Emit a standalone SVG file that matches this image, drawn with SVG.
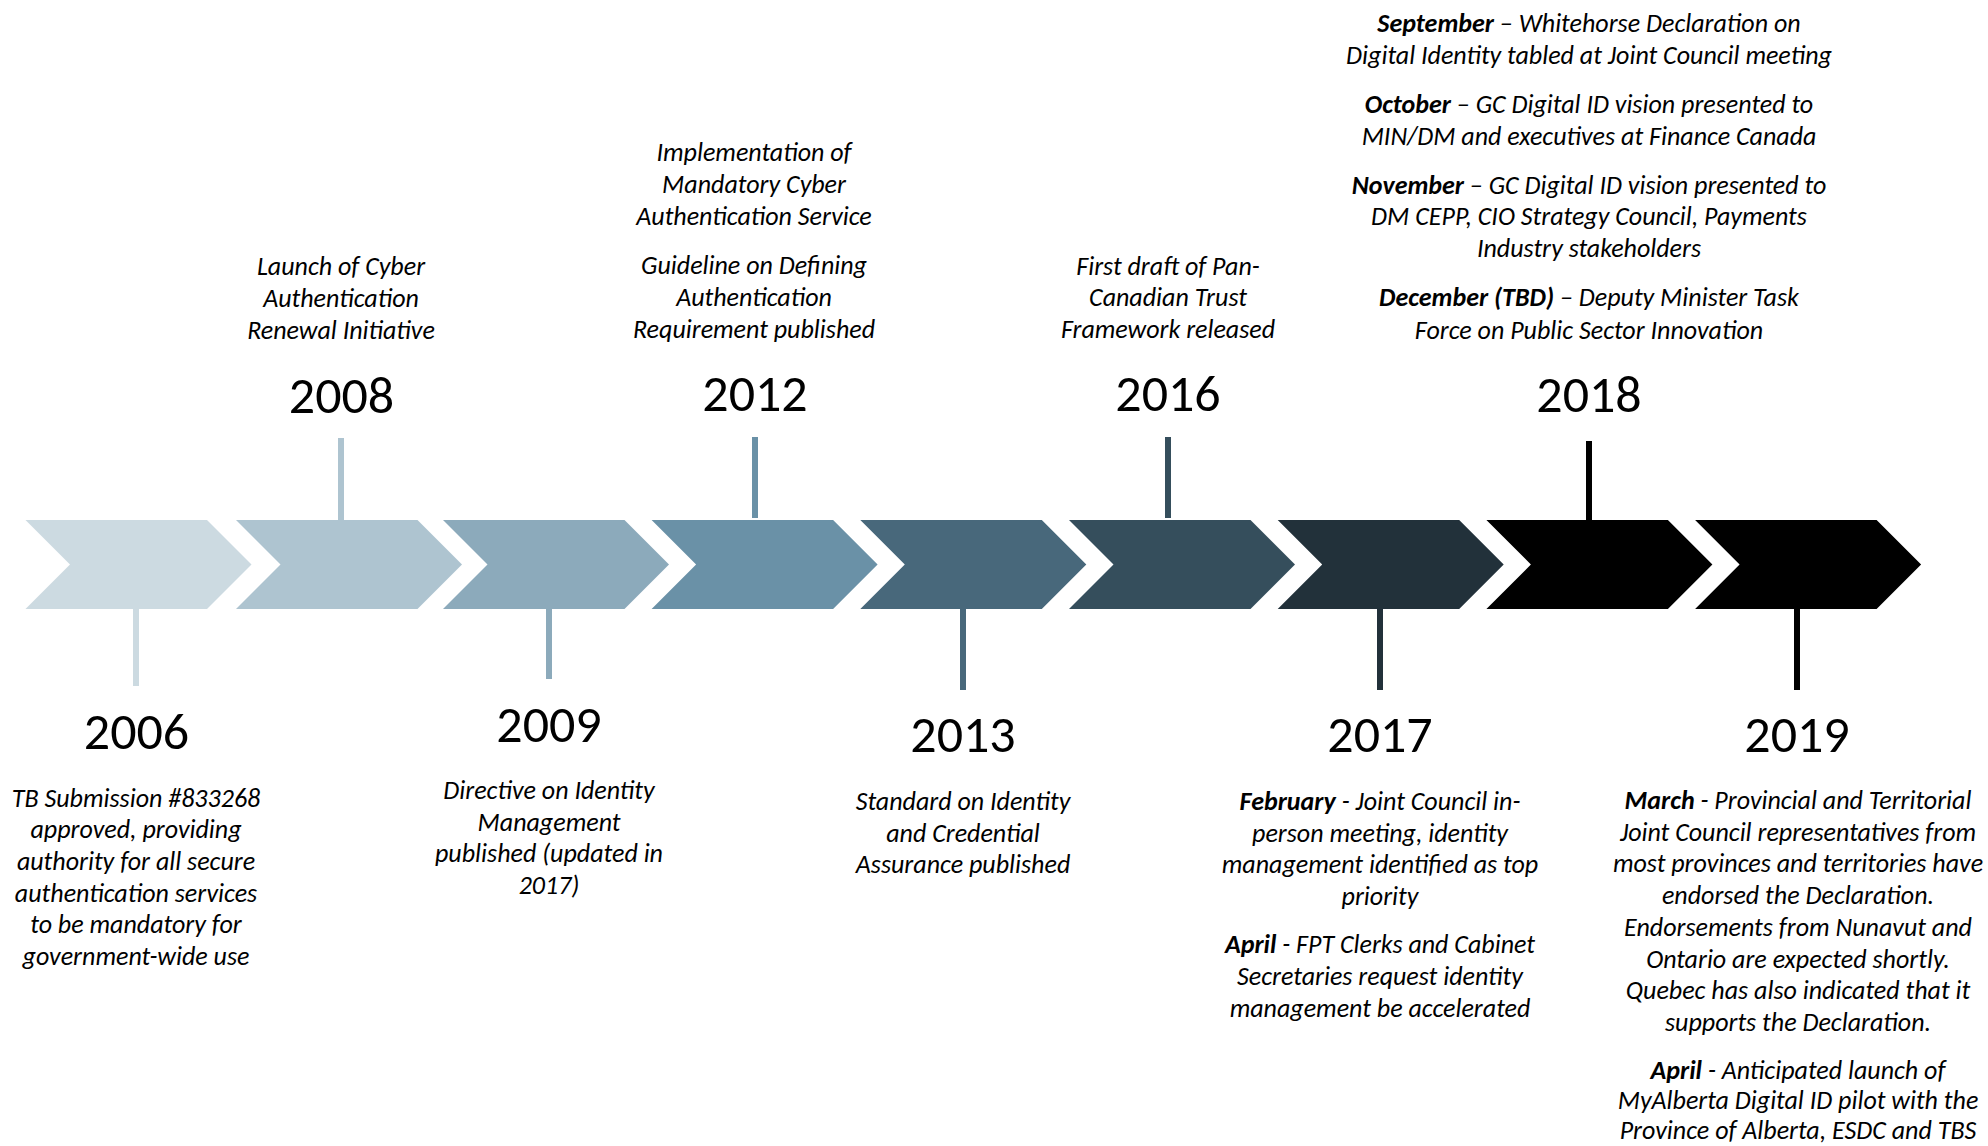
<svg xmlns="http://www.w3.org/2000/svg" width="1988" height="1146" viewBox="0 0 1988 1146">
<style>
.yr{font-family:Carlito,"Lato Light",Lato,"Liberation Sans",sans-serif;font-size:52px;font-weight:300;fill:#000;text-anchor:middle}
.d{font-family:Carlito,"Lato Light",Lato,"Liberation Sans",sans-serif;font-size:26px;font-weight:300;font-style:italic;fill:#000;text-anchor:middle}
.b{font-family:Carlito,Lato,"Liberation Sans",sans-serif;font-weight:700}
</style>
<rect width="1988" height="1146" fill="#fff"/>
<g id="chevrons">
<path id="c1" d="M25.5,520H207L251.5,564.5L207,609H25.5L70,564.5Z" fill="#CCDAE1"/>
<path id="c2" d="M236,520H417.5L462,564.5L417.5,609H236L280.5,564.5Z" fill="#AEC4D0"/>
<path id="c3" d="M443,520H624.5L669,564.5L624.5,609H443L487.5,564.5Z" fill="#8CAABB"/>
<path id="c4" d="M651.6,520H833.1L877.6,564.5L833.1,609H651.6L696.1,564.5Z" fill="#6A91A7"/>
<path id="c5" d="M860.3,520H1041.8L1086.3,564.5L1041.8,609H860.3L904.8,564.5Z" fill="#48687B"/>
<path id="c6" d="M1069,520H1250.5L1295,564.5L1250.5,609H1069L1113.5,564.5Z" fill="#354E5C"/>
<path id="c7" d="M1277.7,520H1459.2L1503.7,564.5L1459.2,609H1277.7L1322.2,564.5Z" fill="#22313A"/>
<path id="c8" d="M1486.4,520H1667.9L1712.4,564.5L1667.9,609H1486.4L1530.9,564.5Z" fill="#000"/>
<path id="c9" d="M1695.1,520H1876.6L1921.1,564.5L1876.6,609H1695.1L1739.6,564.5Z" fill="#000"/>
</g>
<g id="connectors">
<rect x="133" y="609" width="6" height="77" fill="#CCDAE1"/>
<rect x="338" y="438" width="6" height="82" fill="#AEC4D0"/>
<rect x="546" y="609" width="6" height="70" fill="#8CAABB"/>
<rect x="752" y="437" width="6" height="81" fill="#6A91A7"/>
<rect x="960" y="609" width="6" height="81" fill="#48687B"/>
<rect x="1165" y="437" width="6" height="81" fill="#354E5C"/>
<rect x="1377" y="609" width="6" height="81" fill="#22313A"/>
<rect x="1586" y="441" width="6" height="79" fill="#000"/>
<rect x="1794" y="609" width="6" height="81" fill="#000"/>
</g>
<g id="n2006">
<text class="yr" x="136.5" y="749">2006</text>
<text class="d"><tspan x="136" y="806.5">TB Submission #833268</tspan><tspan x="136" y="838.2">approved, providing</tspan><tspan x="136" y="869.9">authority for all secure</tspan><tspan x="136" y="901.6">authentication services</tspan><tspan x="136" y="933.3">to be mandatory for</tspan><tspan x="136" y="965">government-wide use</tspan></text>
</g>
<g id="n2008">
<text class="yr" x="341.5" y="413">2008</text>
<text class="d"><tspan x="341" y="274.5">Launch of Cyber</tspan><tspan x="341" y="306.5">Authentication</tspan><tspan x="341" y="338.5">Renewal Initiative</tspan></text>
</g>
<g id="n2009">
<text class="yr" x="549" y="742">2009</text>
<text class="d"><tspan x="549" y="799">Directive on Identity</tspan><tspan x="549" y="830.7">Management</tspan><tspan x="549" y="862.4">published (updated in</tspan><tspan x="549" y="894.1">2017)</tspan></text>
</g>
<g id="n2012">
<text class="yr" x="755" y="410.5">2012</text>
<text class="d"><tspan x="754" y="160.5">Implementation of</tspan><tspan x="754" y="192.5">Mandatory Cyber</tspan><tspan x="754" y="224.5">Authentication Service</tspan><tspan x="754" y="273.5">Guideline on Defining</tspan><tspan x="754" y="305.5">Authentication</tspan><tspan x="754" y="337.5">Requirement published</tspan></text>
</g>
<g id="n2013">
<text class="yr" x="963" y="752">2013</text>
<text class="d"><tspan x="963" y="809.5">Standard on Identity</tspan><tspan x="963" y="841.5">and Credential</tspan><tspan x="963" y="873">Assurance published</tspan></text>
</g>
<g id="n2016">
<text class="yr" x="1168" y="410.5">2016</text>
<text class="d"><tspan x="1168" y="274.5">First draft of Pan-</tspan><tspan x="1168" y="306.2">Canadian Trust</tspan><tspan x="1168" y="337.9">Framework released</tspan></text>
</g>
<g id="n2017">
<text class="yr" x="1380" y="752">2017</text>
<text class="d"><tspan x="1380" y="809.5"><tspan class="b">February</tspan> - Joint Council in-</tspan><tspan x="1380" y="841.5">person meeting, identity</tspan><tspan x="1380" y="873">management identified as top</tspan><tspan x="1380" y="904.8">priority</tspan><tspan x="1380" y="953"><tspan class="b">April</tspan> - FPT Clerks and Cabinet</tspan><tspan x="1380" y="984.7">Secretaries request identity</tspan><tspan x="1380" y="1016.8">management be accelerated</tspan></text>
</g>
<g id="n2018">
<text class="yr" x="1589" y="412">2018</text>
<text class="d"><tspan x="1589" y="32"><tspan class="b">September</tspan> – Whitehorse Declaration on</tspan><tspan x="1589" y="64">Digital Identity tabled at Joint Council meeting</tspan><tspan x="1589" y="113"><tspan class="b">October</tspan> – GC Digital ID vision presented to</tspan><tspan x="1589" y="145">MIN/DM and executives at Finance Canada</tspan><tspan x="1589" y="193.5"><tspan class="b">November</tspan> – GC Digital ID vision presented to</tspan><tspan x="1589" y="225.2">DM CEPP, CIO Strategy Council, Payments</tspan><tspan x="1589" y="256.9">Industry stakeholders</tspan><tspan x="1589" y="306"><tspan class="b">December (TBD)</tspan> – Deputy Minister Task</tspan><tspan x="1589" y="338.5">Force on Public Sector Innovation</tspan></text>
</g>
<g id="n2019">
<text class="yr" x="1797" y="752">2019</text>
<text class="d"><tspan x="1798" y="809"><tspan class="b">March</tspan> - Provincial and Territorial</tspan><tspan x="1798" y="840.7">Joint Council representatives from</tspan><tspan x="1798" y="872.4">most provinces and territories have</tspan><tspan x="1798" y="904.1">endorsed the Declaration.</tspan><tspan x="1798" y="935.8">Endorsements from Nunavut and</tspan><tspan x="1798" y="967.5">Ontario are expected shortly.</tspan><tspan x="1798" y="999.2">Quebec has also indicated that it</tspan><tspan x="1798" y="1030.9">supports the Declaration.</tspan><tspan x="1798" y="1078.5"><tspan class="b">April</tspan> - Anticipated launch of</tspan><tspan x="1798" y="1109">MyAlberta Digital ID pilot with the</tspan><tspan x="1798" y="1139">Province of Alberta, ESDC and TBS</tspan></text>
</g>
</svg>
